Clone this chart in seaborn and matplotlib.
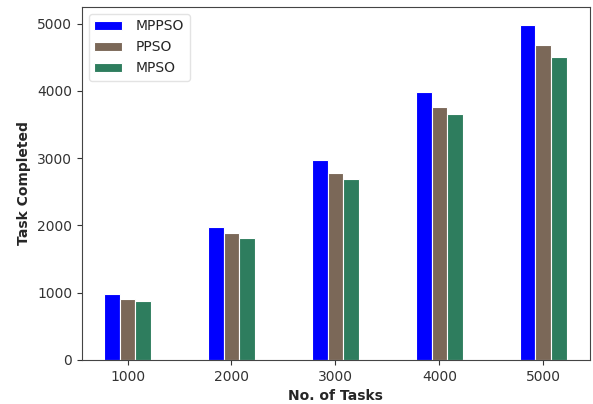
import matplotlib
matplotlib.use("Agg")
import matplotlib.pyplot as plt
import seaborn as sns
import pandas as pd

tasks = ["1000", "2000", "3000", "4000", "5000"]
algorithms = ["MPPSO", "PPSO", "MPSO"]
mppso = [980, 1980, 2975, 3980, 4985]
ppso = [900, 1890, 2785, 3765, 4690]
mpso = [870, 1815, 2695, 3650, 4500]
colors = ["#0000FF", "#7B6858", "#2E7D5E"]

df = pd.DataFrame({
    "No. of Tasks": tasks * 3,
    "Task Completed": mppso + ppso + mpso,
    "Algorithm": [a for a in algorithms for _ in tasks],
})

sns.set_style("ticks")
plt.rcParams["font.family"] = ["DejaVu Sans"]

fig = plt.figure(figsize=(5.93, 4.04), dpi=100)
ax = fig.add_axes([0.138, 0.109, 0.857, 0.874])

sns.barplot(data=df, x="No. of Tasks", y="Task Completed", hue="Algorithm",
            palette=colors, width=0.45, edgecolor="white", linewidth=0.8,
            saturation=1, ax=ax)

ax.set_xlim(-0.44, 4.45)
ax.set_ylim(0, 5250)
ax.set_yticks([0, 1000, 2000, 3000, 4000, 5000])
ax.set_xlabel("No. of Tasks", fontsize=10, fontweight="bold")
ax.set_ylabel("Task Completed", fontsize=10, fontweight="bold")
ax.tick_params(labelsize=10, colors="#333333", labelcolor="#333333")
for s in ax.spines.values():
    s.set_visible(True)
    s.set_color("#444444")

leg = ax.legend(loc="upper left", fontsize=10, title=None, frameon=True,
                handlelength=2.0, handleheight=0.7, handletextpad=1.0)
leg.get_frame().set_edgecolor("#dddddd")

fig.savefig("out.png", dpi=100)
